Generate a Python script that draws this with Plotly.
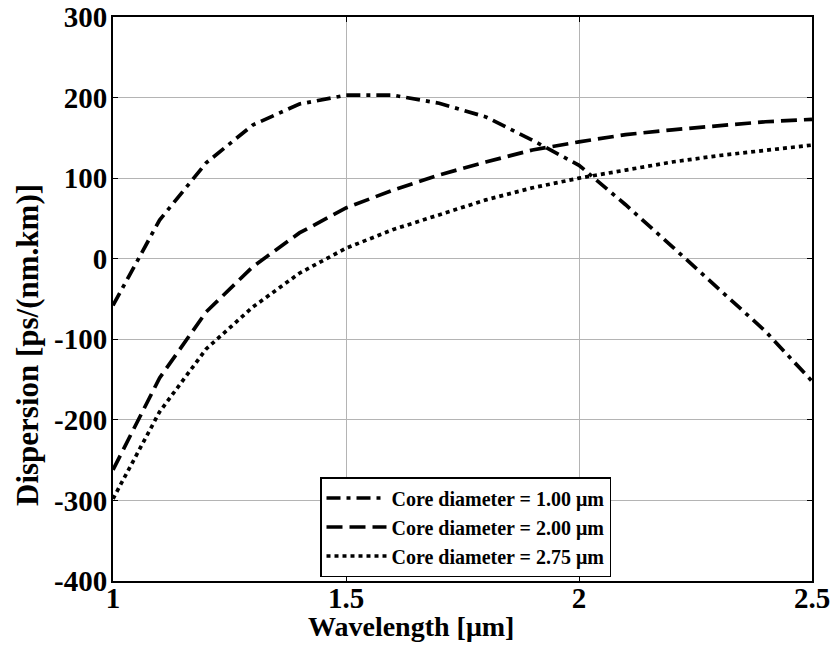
import plotly.graph_objects as go

# Wavelength samples (µm)
wavelength = [1.0, 1.1, 1.2, 1.3, 1.4, 1.5, 1.6, 1.7, 1.8, 1.9, 2.0, 2.1, 2.2, 2.3, 2.4, 2.5]

# Dispersion (ps/(nm.km)) for each core diameter
disp_d100 = [-58, 48, 119, 166, 192, 203, 203, 193, 176, 147, 116, 67, 15, -37, -90, -152]
disp_d200 = [-262, -148, -66, -10, 32, 63, 85, 104, 120, 135, 145, 154, 160, 165, 170, 173]
disp_d275 = [-298, -190, -112, -60, -18, 13, 36, 55, 73, 88, 100, 110, 120, 128, 135, 141]

series_names = [
    "Core diameter = 1.00 μm",
    "Core diameter = 2.00 μm",
    "Core diameter = 2.75 μm",
]

x_ticks = [1, 1.5, 2, 2.5]
x_tick_text = ["1", "1.5", "2", "2.5"]
y_ticks = [-400, -300, -200, -100, 0, 100, 200, 300]
y_tick_text = ["-400", "-300", "-200", "-100", "0", "100", "200", "300"]

FONT = "Liberation Serif"

fig = go.Figure()
styles = [
    "14px,6px,4px,6px",   # dash-dot
    "16px,7px",           # dashed
    "4px,4px",            # dotted
]
for name, ys, dash in zip(series_names, [disp_d100, disp_d200, disp_d275], styles):
    fig.add_trace(go.Scatter(
        x=wavelength, y=ys, mode="lines", name=name,
        line=dict(color="black", width=3.7, dash=dash),
    ))

axis_common = dict(
    showline=True, linecolor="black", linewidth=2, mirror="ticks",
    ticks="inside", ticklen=5, tickwidth=1, tickcolor="black",
    showgrid=True, gridcolor="#b4b4b4", gridwidth=1, zeroline=False,
    automargin=False,
    tickfont=dict(family=FONT, size=29, color="black", weight="bold"),
)

fig.update_xaxes(range=[1, 2.5], tickvals=x_ticks, ticktext=x_tick_text,
                 ticklabelstandoff=-10, **axis_common)
fig.update_yaxes(range=[-400, 300], tickvals=y_ticks, ticktext=y_tick_text,
                 ticklabelstandoff=-2, **axis_common)

fig.add_annotation(
    text="Wavelength [μm]", xref="paper", yref="paper",
    x=(411 - 113) / 699, y=-(626 - 581) / 564, xanchor="center", yanchor="middle",
    showarrow=False, font=dict(family=FONT, size=28, color="black", weight="bold"),
)
fig.add_annotation(
    text="Dispersion [ps/(nm.km)]", xref="paper", yref="paper",
    x=-(113 - 27) / 699, y=(581 - 345) / 564, xanchor="center", yanchor="middle",
    textangle=-90, showarrow=False,
    font=dict(family=FONT, size=31, color="black", weight="bold"),
)

fig.update_layout(
    width=831, height=656,
    margin=dict(l=113, r=19, t=17, b=75, autoexpand=False),
    paper_bgcolor="white", plot_bgcolor="white",
    showlegend=True,
    legend=dict(
        x=(320 - 113) / 699, y=(581 - 577) / 564, xanchor="left", yanchor="bottom",
        bgcolor="white", bordercolor="black", borderwidth=1.5,
        font=dict(family=FONT, size=20, color="black", weight="bold"),
        itemwidth=60, tracegroupgap=0,
    ),
)

fig.write_html("out.html")
